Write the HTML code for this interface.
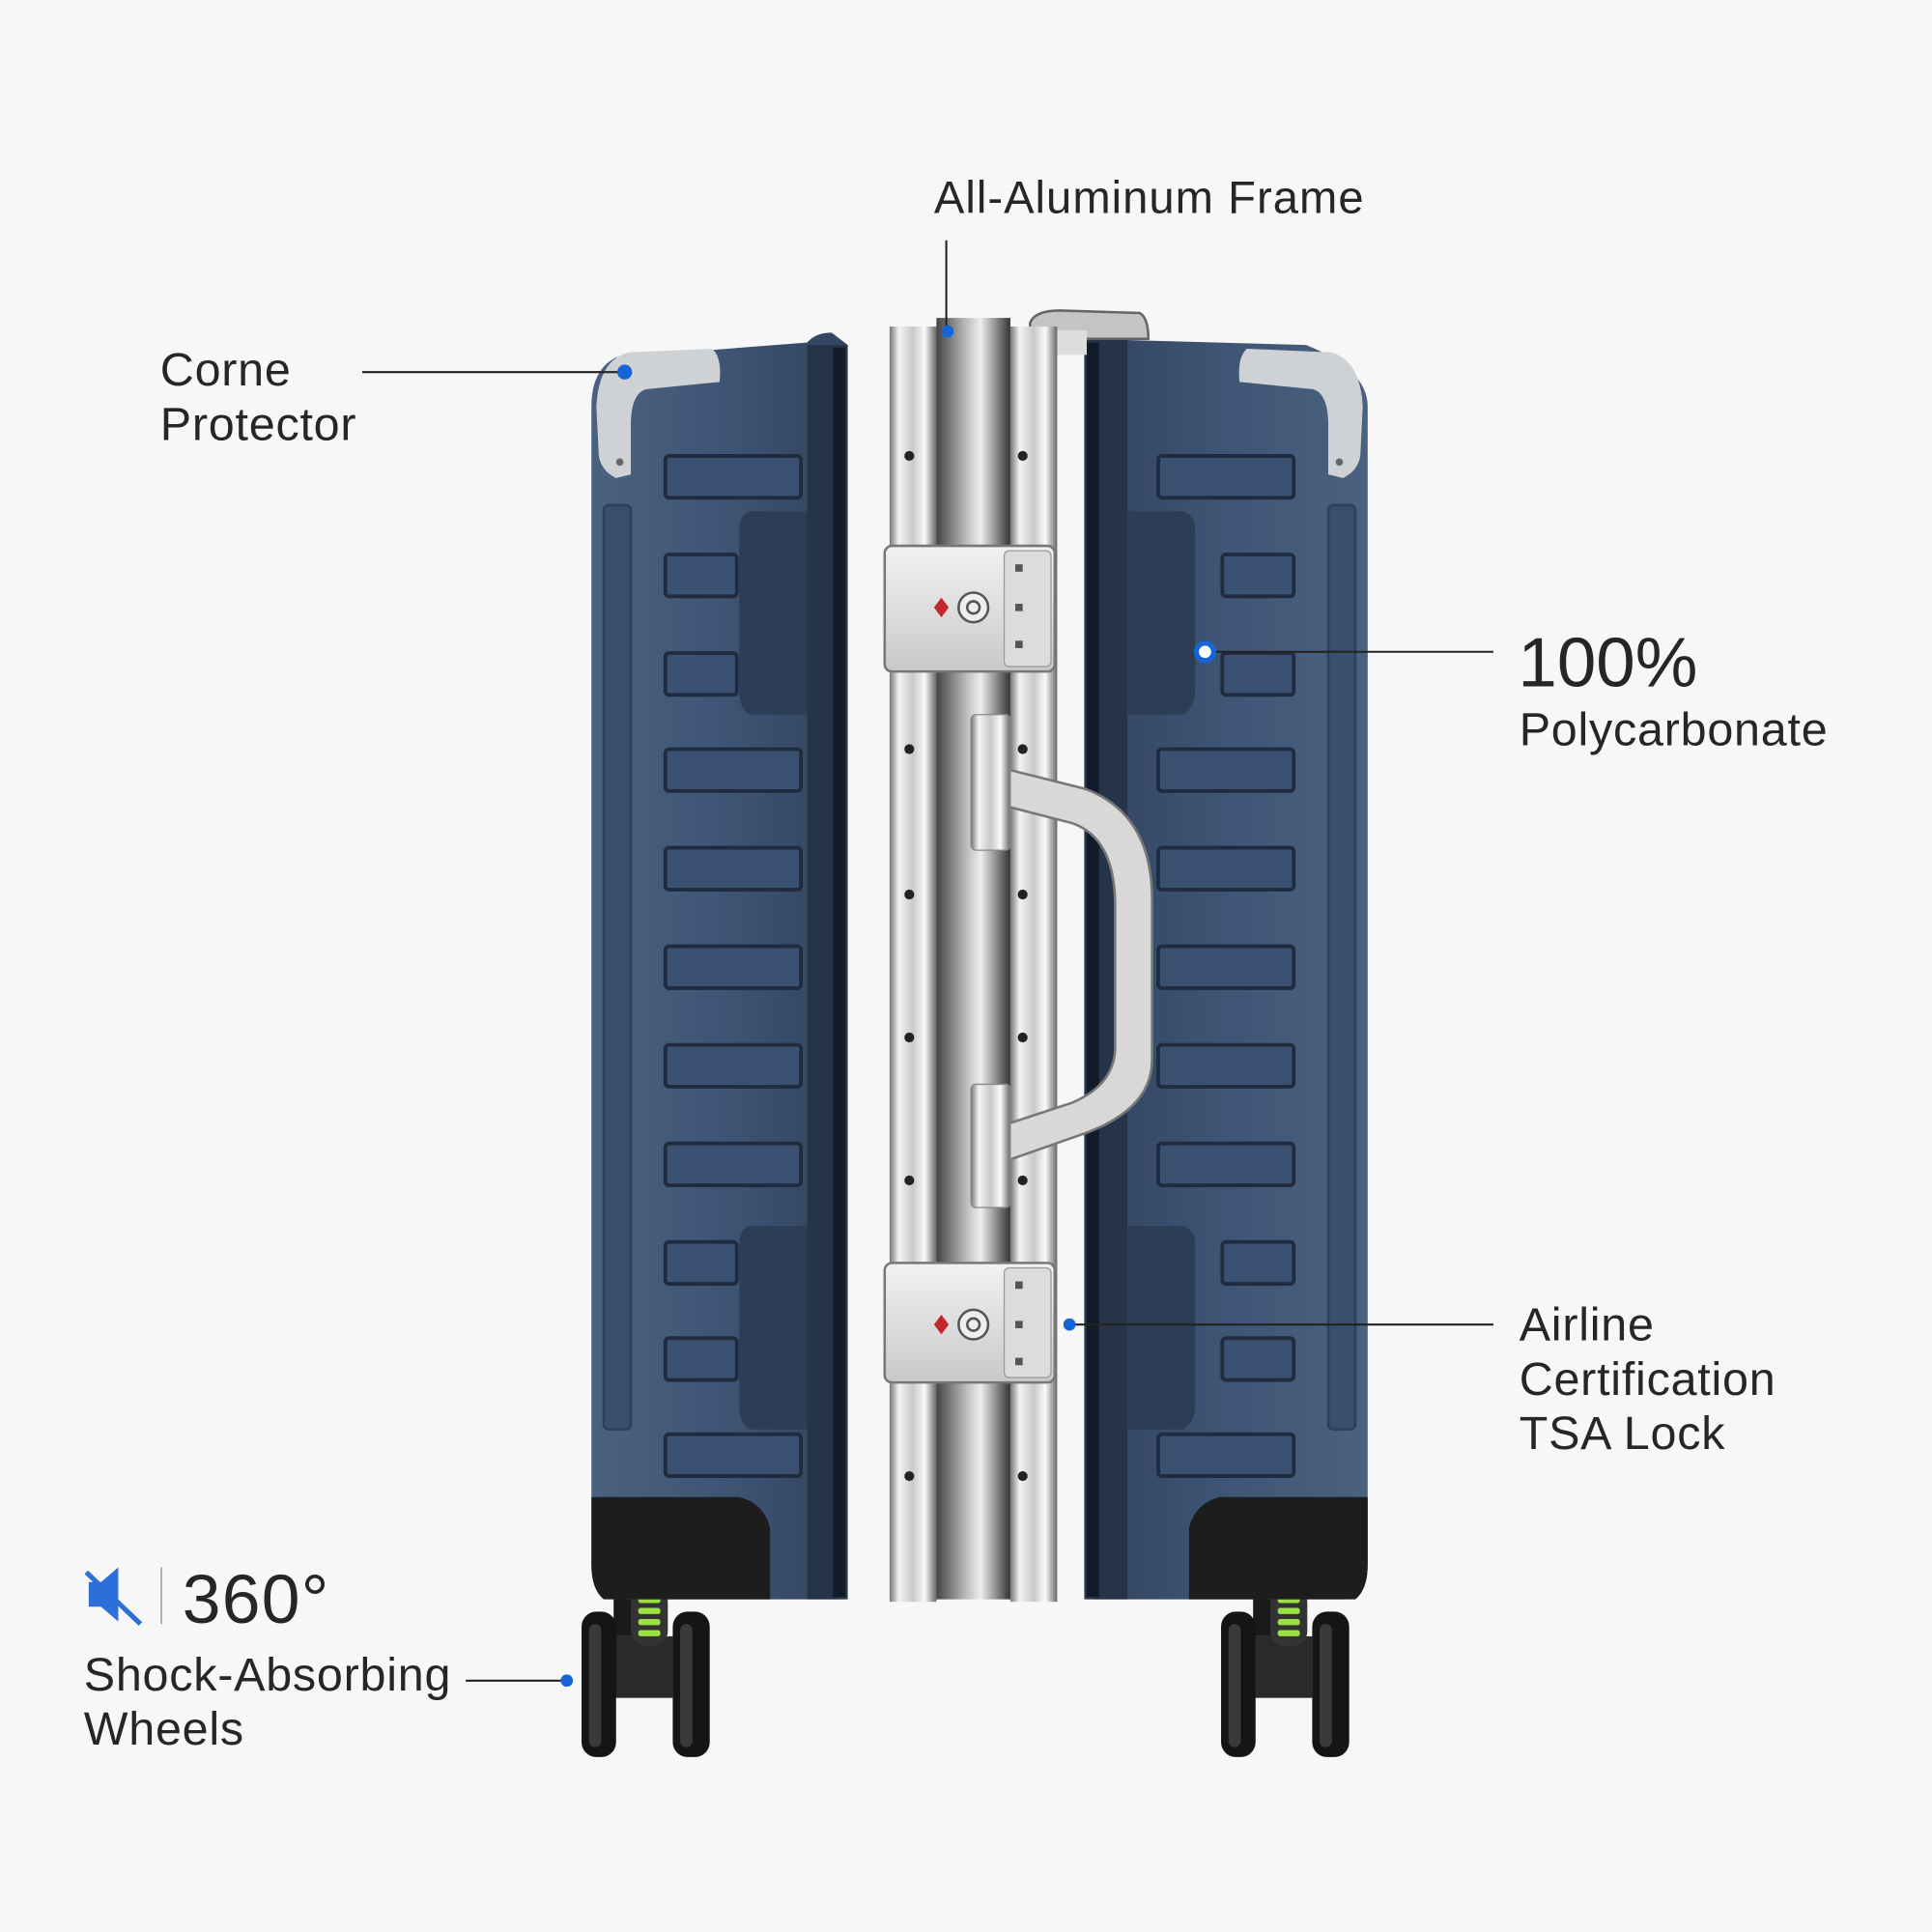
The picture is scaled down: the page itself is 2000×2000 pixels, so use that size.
<!DOCTYPE html>
<html><head><meta charset="utf-8"><style>
html,body{margin:0;padding:0;background:#f7f7f7;}
svg{display:block}
text{font-family:"Liberation Sans",sans-serif;fill:#262626}
</style></head><body>
<svg width="2000" height="2000" viewBox="0 0 1568 1568" xmlns="http://www.w3.org/2000/svg">
<defs>
<linearGradient id="shellL" x1="0" x2="1"><stop offset="0" stop-color="#4a6180"/><stop offset="0.5" stop-color="#3f5575"/><stop offset="1" stop-color="#31445f"/></linearGradient>
<linearGradient id="shellR" x1="0" x2="1"><stop offset="0" stop-color="#31445f"/><stop offset="0.5" stop-color="#3f5575"/><stop offset="1" stop-color="#4a6180"/></linearGradient>
<linearGradient id="metal" x1="0" x2="1"><stop offset="0" stop-color="#777"/><stop offset="0.2" stop-color="#f4f4f4"/><stop offset="0.5" stop-color="#c8c8c8"/><stop offset="0.75" stop-color="#fafafa"/><stop offset="1" stop-color="#666"/></linearGradient>
<linearGradient id="metalDark" x1="0" x2="1"><stop offset="0" stop-color="#444"/><stop offset="0.4" stop-color="#bbb"/><stop offset="0.6" stop-color="#eee"/><stop offset="1" stop-color="#333"/></linearGradient>
<linearGradient id="lockG" x1="0" y1="0" x2="0" y2="1"><stop offset="0" stop-color="#f2f2f2"/><stop offset="1" stop-color="#c9c9c9"/></linearGradient>
<g id="ribsL">
<rect x="540" y="370" width="110" height="34" rx="3"/>
<rect x="540" y="450" width="58" height="34" rx="3"/>
<rect x="540" y="530" width="58" height="34" rx="3"/>
<rect x="540" y="608" width="110" height="34" rx="3"/>
<rect x="540" y="688" width="110" height="34" rx="3"/>
<rect x="540" y="768" width="110" height="34" rx="3"/>
<rect x="540" y="848" width="110" height="34" rx="3"/>
<rect x="540" y="928" width="110" height="34" rx="3"/>
<rect x="540" y="1008" width="58" height="34" rx="3"/>
<rect x="540" y="1086" width="58" height="34" rx="3"/>
<rect x="540" y="1164" width="110" height="34" rx="3"/>
</g>
<g id="wheel">
<rect x="0" y="0" width="18" height="60" fill="#1a1a1a"/>
<rect x="22" y="0" width="20" height="85" rx="6" fill="#222"/>
<rect x="-12" y="60" width="60" height="50" fill="#2a2a2a"/>
<rect x="-26" y="40" width="28" height="118" rx="12" fill="#151515"/>
<rect x="-20" y="50" width="10" height="100" rx="5" fill="#3a3a3a"/>
<rect x="48" y="40" width="30" height="118" rx="12" fill="#151515"/>
<rect x="54" y="50" width="10" height="100" rx="5" fill="#3a3a3a"/>
<rect x="14" y="20" width="30" height="48" rx="12" fill="#333"/>
<g fill="#9be045"><rect x="20" y="28" width="18" height="5" rx="2"/><rect x="20" y="37" width="18" height="5" rx="2"/><rect x="20" y="46" width="18" height="5" rx="2"/><rect x="20" y="55" width="18" height="5" rx="2"/></g>
</g>
</defs>
<rect width="1568" height="1568" fill="#f7f7f7"/>

<use href="#wheel" x="498" y="1268"/>
<path d="M500 290 L655 278 Q662 270 675 270 L688 280 L682 1298 L655 1298 L500 1298 Q480 1298 480 1270 L480 330 Q480 300 500 290Z" fill="url(#shellL)"/>
<path d="M480 1215 L600 1215 Q620 1220 625 1240 L625 1298 L490 1298 Q480 1290 480 1270Z" fill="#1d1d1d"/>
<rect x="655" y="280" width="33" height="1018" fill="#26344a"/>
<rect x="676" y="282" width="10" height="1014" fill="#111c2b"/>
<rect x="490" y="410" width="22" height="750" rx="4" fill="#3a4f6d" stroke="#2e3f58" stroke-width="2"/>
<path d="M608 415 L655 415 L655 580 L608 580 Q600 575 600 560 L600 430 Q600 418 608 415Z" fill="#2c3d56"/>
<path d="M608 995 L655 995 L655 1160 L608 1160 Q600 1155 600 1140 L600 1010 Q600 998 608 995Z" fill="#2c3d56"/>
<use href="#ribsL" fill="#3b5171" stroke="#1f2c40" stroke-width="3"/>
<path d="M484 330 Q486 292 510 286 L578 283 Q586 290 584 310 L524 316 Q512 320 512 345 L512 385 L500 388 Q488 382 486 370Z" fill="#cfd2d5"/>
<circle cx="503" cy="375" r="3" fill="#666"/>

<use href="#wheel" x="1017" y="1268"/>
<path d="M880 275 L1060 280 Q1110 300 1110 330 L1110 1270 Q1110 1298 1090 1298 L888 1298 L880 1290Z" fill="url(#shellR)"/>
<path d="M1110 1215 L990 1215 Q970 1220 965 1240 L965 1298 L1100 1298 Q1110 1290 1110 1270Z" fill="#1d1d1d"/>
<rect x="880" y="275" width="35" height="1023" fill="#26344a"/>
<rect x="882" y="278" width="10" height="1018" fill="#111c2b"/>
<rect x="1078" y="410" width="22" height="750" rx="4" fill="#3a4f6d" stroke="#2e3f58" stroke-width="2"/>
<path d="M960 415 L915 415 L915 580 L960 580 Q970 575 970 560 L970 430 Q970 418 960 415Z" fill="#2c3d56"/>
<path d="M960 995 L915 995 L915 1160 L960 1160 Q970 1155 970 1140 L970 1010 Q970 998 960 995Z" fill="#2c3d56"/>
<use href="#ribsL" transform="translate(1590 0) scale(-1 1)" fill="#3b5171" stroke="#1f2c40" stroke-width="3"/>
<path d="M1106 330 Q1104 292 1080 286 L1012 283 Q1004 290 1006 310 L1066 316 Q1078 320 1078 345 L1078 385 L1090 388 Q1102 382 1104 370Z" fill="#cfd2d5"/>
<circle cx="1087" cy="375" r="3" fill="#666"/>

<path d="M836 275 L836 262 Q840 252 860 252 L925 254 Q932 258 932 275Z" fill="#c4c4c4" stroke="#666" stroke-width="2"/>
<rect x="842" y="268" width="40" height="20" fill="#ddd"/>
<rect x="722" y="265" width="38" height="1035" fill="url(#metal)"/>
<rect x="760" y="258" width="60" height="1040" fill="url(#metalDark)"/>
<rect x="820" y="265" width="38" height="1035" fill="url(#metal)"/>
<g fill="#222">
<circle cx="738" cy="370" r="4"/><circle cx="830" cy="370" r="4"/>
<circle cx="738" cy="608" r="4"/><circle cx="830" cy="608" r="4"/>
<circle cx="738" cy="726" r="4"/><circle cx="830" cy="726" r="4"/>
<circle cx="738" cy="842" r="4"/><circle cx="830" cy="842" r="4"/>
<circle cx="738" cy="958" r="4"/><circle cx="830" cy="958" r="4"/>
<circle cx="738" cy="1198" r="4"/><circle cx="830" cy="1198" r="4"/>
</g>
<path d="M800 620 L880 640 Q935 660 935 730 L935 860 Q935 900 880 920 L800 948 L800 918 L870 895 Q905 880 905 850 L905 735 Q905 680 870 668 L800 650Z" fill="#d8d8d8" stroke="#777" stroke-width="2"/>
<rect x="788" y="580" width="32" height="110" rx="4" fill="url(#metal)" stroke="#888"/>
<rect x="788" y="880" width="32" height="100" rx="4" fill="url(#metal)" stroke="#888"/>
<g>
<rect x="718" y="443" width="138" height="102" rx="6" fill="url(#lockG)" stroke="#777" stroke-width="2"/>
<rect x="815" y="447" width="38" height="94" rx="4" fill="#dcdcdc" stroke="#999"/>
<circle cx="790" cy="493" r="12" fill="#eee" stroke="#555" stroke-width="2"/><circle cx="790" cy="493" r="5" fill="none" stroke="#555" stroke-width="2"/>
<path d="M758 493 L764 485 L770 493 L764 501Z" fill="#c4262e"/>
<rect x="824" y="458" width="6" height="6" fill="#555"/><rect x="824" y="490" width="6" height="6" fill="#555"/><rect x="824" y="520" width="6" height="6" fill="#555"/>
</g>
<g>
<rect x="718" y="1025" width="138" height="97" rx="6" fill="url(#lockG)" stroke="#777" stroke-width="2"/>
<rect x="815" y="1029" width="38" height="89" rx="4" fill="#dcdcdc" stroke="#999"/>
<circle cx="790" cy="1075" r="12" fill="#eee" stroke="#555" stroke-width="2"/><circle cx="790" cy="1075" r="5" fill="none" stroke="#555" stroke-width="2"/>
<path d="M758 1075 L764 1067 L770 1075 L764 1083Z" fill="#c4262e"/>
<rect x="824" y="1040" width="6" height="6" fill="#555"/><rect x="824" y="1072" width="6" height="6" fill="#555"/><rect x="824" y="1102" width="6" height="6" fill="#555"/>
</g>

<g stroke="#222" stroke-width="1.6">
<line x1="768" y1="195" x2="768" y2="265"/>
<line x1="294" y1="302" x2="505" y2="302"/>
<line x1="980" y1="529" x2="1212" y2="529"/>
<line x1="870" y1="1075" x2="1212" y2="1075"/>
<line x1="378" y1="1364" x2="458" y2="1364"/>
</g>
<g fill="#1565d8">
<circle cx="769" cy="269" r="5"/>
<circle cx="507" cy="302" r="6"/>
<circle cx="868" cy="1075" r="5"/>
<circle cx="460" cy="1364" r="5"/>
</g>
<circle cx="978" cy="529" r="7" fill="#fff" stroke="#1565d8" stroke-width="4"/>

<text x="758" y="173" font-size="37" letter-spacing="0.8">All-Aluminum Frame</text>
<text x="130" y="313" font-size="38" letter-spacing="0.6">Corne</text>
<text x="130" y="357" font-size="38" letter-spacing="0.6">Protector</text>
<text x="1232" y="557" font-size="57">100%</text>
<text x="1233" y="605" font-size="38" letter-spacing="0.6">Polycarbonate</text>
<text x="1233" y="1088" font-size="38" letter-spacing="0.6">Airline</text>
<text x="1233" y="1132" font-size="38" letter-spacing="0.6">Certification</text>
<text x="1233" y="1176" font-size="38" letter-spacing="0.6">TSA Lock</text>
<text x="148" y="1317" font-size="56" letter-spacing="1">360°</text>
<text x="68" y="1372" font-size="38" letter-spacing="0.6">Shock-Absorbing</text>
<text x="68" y="1416" font-size="38" letter-spacing="0.6">Wheels</text>
<path d="M72 1284 L82 1284 L96 1272 L96 1316 L82 1304 L72 1304Z" fill="#2d6fd8"/>
<line x1="70" y1="1276" x2="114" y2="1318" stroke="#2d6fd8" stroke-width="4"/>
<line x1="131" y1="1272" x2="131" y2="1318" stroke="#aaa" stroke-width="1.5"/>
</svg>
</body></html>
